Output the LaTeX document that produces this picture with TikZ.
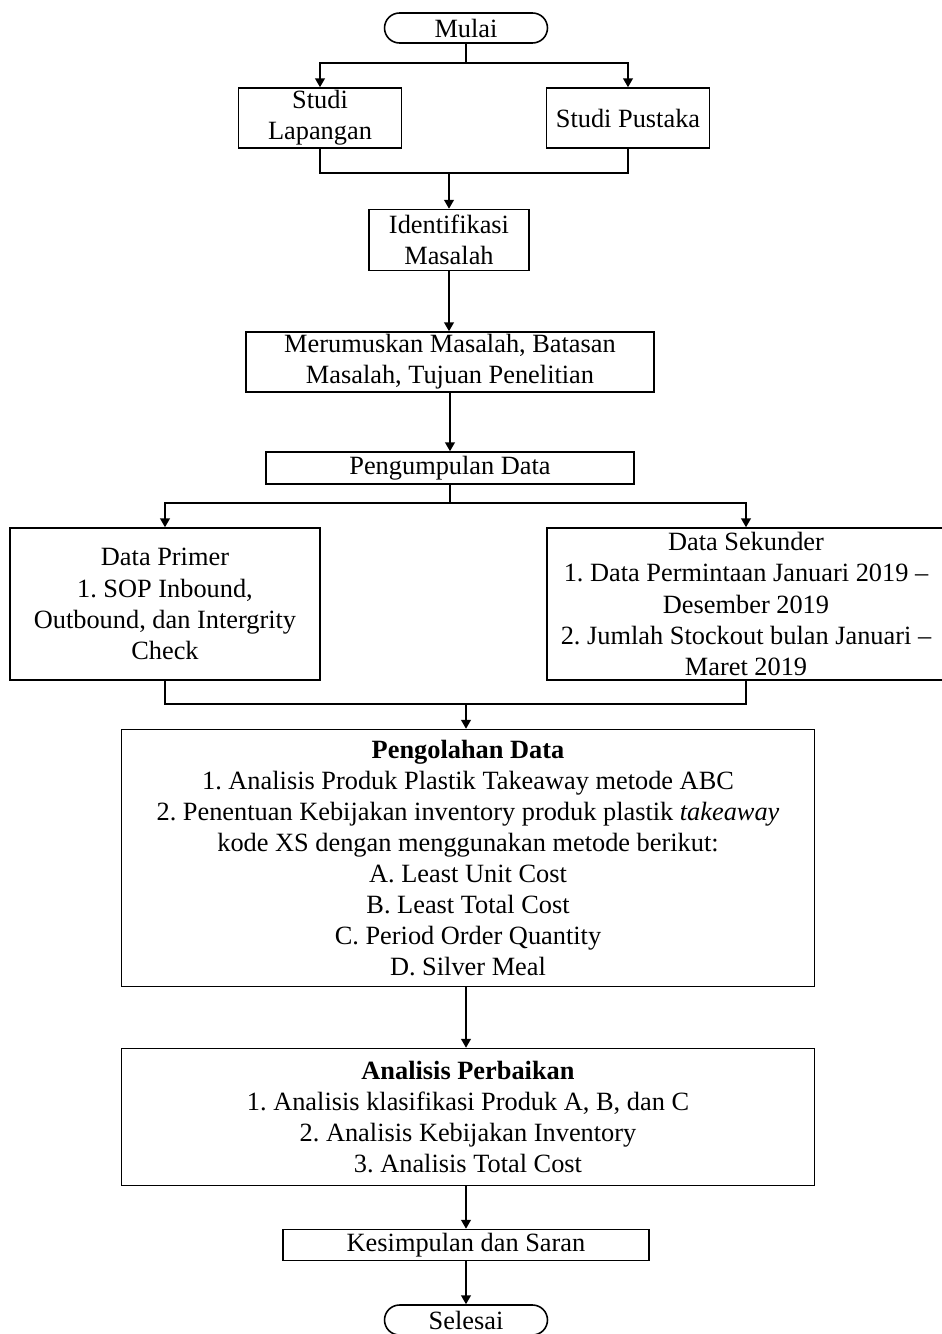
\documentclass[tikz,border=0pt]{standalone}
\usepackage{fontspec}
\setmainfont{Liberation Serif}
\usetikzlibrary{shapes.misc,arrows.meta}
\frenchspacing
\begin{document}
\begin{tikzpicture}[x=0.02cm,y=-0.02cm,line width=0.9pt,
    kotak/.style={draw,align=center,inner sep=0pt,font=\fontsize{15}{17.7}\selectfont},
    ujung/.style={kotak,rounded rectangle,minimum width=3.26cm,minimum height=0.6cm},
    panah/.style={-{Triangle[length=5pt,width=5.5pt]}}]
    \useasboundingbox (0,0) rectangle (942,1334);
    \clip (0,0) rectangle (942,1334);

    \node[ujung] (mulai) at (466,28) {Mulai};
    \node[kotak,minimum width=3.26cm,minimum height=1.2cm] (lap) at (320,118) {Studi\\Lapangan};
    \node[kotak,minimum width=3.26cm,minimum height=1.2cm] (pus) at (628,118) {Studi Pustaka};
    \node[kotak,minimum width=3.2cm,minimum height=1.22cm] (idf) at (449,240) {Identifikasi\\Masalah};
    \node[kotak,minimum width=8.16cm,minimum height=1.2cm] (rum) at (450,362) {Merumuskan Masalah, Batasan\\Masalah, Tujuan Penelitian};
    \node[kotak,minimum width=7.36cm,minimum height=0.64cm] (kum) at (450,468) {Pengumpulan Data};
    \node[kotak,minimum width=6.2cm,minimum height=3.04cm] (pri) at (165,604) {Data Primer\\1. SOP Inbound,\\Outbound, dan Intergrity\\Check};
    \node[kotak,minimum width=7.96cm,minimum height=3.04cm] (sek) at (746,604) {Data Sekunder\\1. Data Permintaan Januari 2019 --\\Desember 2019\\2. Jumlah Stockout bulan Januari --\\Maret 2019};
    \node[kotak,minimum width=13.86cm,minimum height=5.14cm] (olah) at (468,858) {\textbf{Pengolahan Data}\\1. Analisis Produk Plastik Takeaway metode ABC\\2. Penentuan Kebijakan inventory produk plastik \textit{takeaway}\\kode XS dengan menggunakan metode berikut:\\A. Least Unit Cost\\B. Least Total Cost\\C. Period Order Quantity\\D. Silver Meal};
    \node[kotak,minimum width=13.86cm,minimum height=2.74cm] (perb) at (468,1117) {\textbf{Analisis Perbaikan}\\1. Analisis klasifikasi Produk A, B, dan C\\2. Analisis Kebijakan Inventory\\3. Analisis Total Cost};
    \node[kotak,minimum width=7.32cm,minimum height=0.62cm] (kes) at (466,1245) {Kesimpulan dan Saran};
    \node[ujung] (sel) at (466,1320) {Selesai};

    \coordinate (j1) at (466,63);
    \coordinate (j2) at (449,173);
    \coordinate (j3) at (450,503);
    \coordinate (j4) at (466,704);

    \draw (mulai) -- (j1);
    \draw[panah] (j1) -| (lap.north);
    \draw[panah] (j1) -| (pus.north);
    \draw (lap.south) |- (j2) -| (pus.south);
    \draw[panah] (j2) -- (idf.north);
    \draw[panah] (idf.south) -- (idf.south |- rum.north);
    \draw[panah] (rum.south) -- (kum.north);
    \draw (kum.south) -- (j3);
    \draw[panah] (j3) -| (pri.north);
    \draw[panah] (j3) -| (sek.north);
    \draw (pri.south) |- (j4) -| (sek.south);
    \draw[panah] (j4) -- (j4 |- olah.north);
    \draw[panah] (olah.south -| j4) -- (perb.north -| j4);
    \draw[panah] (perb.south -| j4) -- (kes.north -| j4);
    \draw[panah] (kes.south -| j4) -- (sel.north -| j4);
\end{tikzpicture}
\end{document}
